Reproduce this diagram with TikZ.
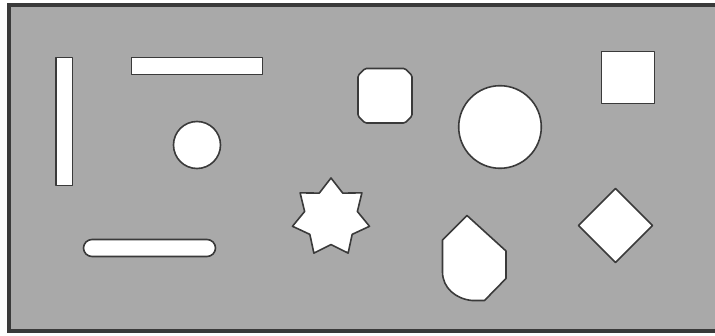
\documentclass[tikz,border=0pt]{standalone}
\usepackage{xcolor}
\usepackage{tikz}
\usetikzlibrary{shapes.geometric}
\definecolor{boardgray}{HTML}{A9A9A9}
\definecolor{edgegray}{HTML}{3A3A3A}
\tikzset{
  piece/.style={draw=edgegray, fill=white, line width=1.6pt, line join=round},
  frame/.style={draw=edgegray, line width=4pt}
}
\begin{document}
\begin{tikzpicture}[x=1pt, y=-1pt]
\useasboundingbox (0,0) rectangle (715,336);
\fill[white] (0,0) rectangle (715,336);
\fill[boardgray] (8.7,4.7) rectangle (715,331.5);
\draw[frame] (715,4.7) -- (8.7,4.7) -- (8.7,331.5) -- (715,331.5);
\draw[piece] (56,57.5) rectangle (72.5,185.5);
\draw[piece] (131.5,57.5) rectangle (262.5,74.5);
\draw[piece] (197,145) circle (23.5);
\draw[piece, rounded corners=1.5pt] (365,68.5) -- (405,68.5) -- (412,75.5) -- (412,116) -- (405,123) -- (365,123) -- (358,116) -- (358,75.5) -- cycle;
\draw[piece] (500,127) circle (41.3);
\draw[piece] (601.5,51.5) rectangle (654.5,103.5);
\draw[piece, rounded corners=8.5pt] (83.5,239.5) rectangle (215.5,256.5);
\node (star7) [piece, star, star points=7, star point ratio=1.46, minimum size=79pt, inner sep=0pt, outer sep=0pt] at (331,217.5) {};
\draw[piece] (467,215.5) -- (506,251) -- (506,278.5) -- (484.5,300.5) -- (472,300.5) .. controls (456,299) and (442.5,288) .. (442.5,272) -- (442.5,240) -- cycle;
\draw[piece] (615.5,188.5) -- (652.5,225.5) -- (615.5,262.5) -- (578.5,225.5) -- cycle;
\end{tikzpicture}
\end{document}
